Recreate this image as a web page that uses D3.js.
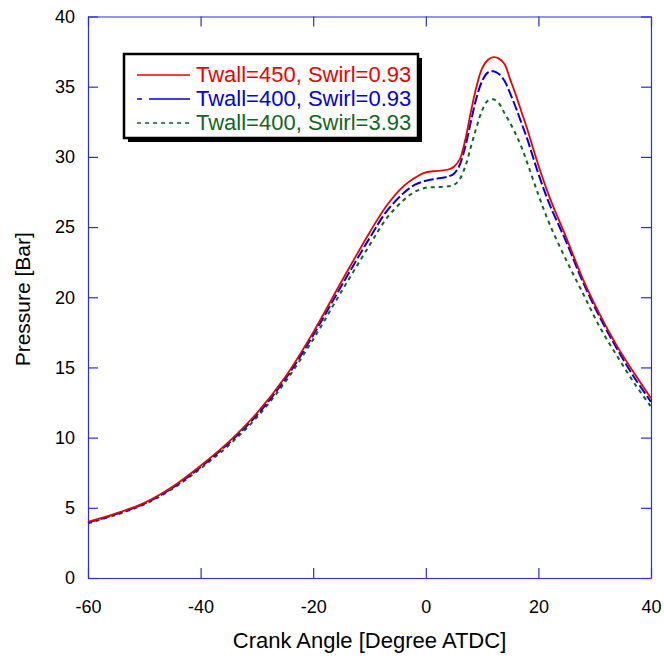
<!DOCTYPE html>
<html>
<head>
<meta charset="utf-8">
<script src="https://cdn.jsdelivr.net/npm/d3@7"></script>
<style>
  body { margin: 0; background: #fff; }
  svg text { font-family: Arial, "Liberation Sans", sans-serif; }
</style>
</head>
<body>
<div id="chart"></div>
<script>
// crank angle samples (degree ATDC)
var angles = [-60, -55, -50, -45, -40, -35, -30, -25, -20, -15, -10, -7, -4, -2, 0, 2, 4, 5, 6, 7, 8, 9, 10, 11, 12, 13, 14, 15, 16, 17, 18, 20, 22, 25, 28, 31, 34, 37, 40];

// pressure [bar] per case
var pTwall450 = [4.0, 4.6, 5.35, 6.5, 8.0, 9.7, 11.75, 14.3, 17.5, 21.1, 24.6, 26.5, 27.9, 28.5, 28.9, 29.0, 29.1, 29.3, 29.8, 31.2, 33.2, 35.0, 36.3, 36.9, 37.1, 37.0, 36.6, 35.5, 34.4, 33.2, 32.0, 29.4, 27.1, 24.2, 21.2, 18.7, 16.5, 14.6, 12.8];
var pTwall400 = [3.95, 4.55, 5.3, 6.42, 7.9, 9.6, 11.6, 14.15, 17.3, 20.8, 24.2, 26.1, 27.4, 28.0, 28.3, 28.45, 28.6, 28.8, 29.4, 30.7, 32.5, 34.2, 35.4, 36.0, 36.1, 35.9, 35.4, 34.5, 33.5, 32.4, 31.3, 28.8, 26.6, 23.9, 21.0, 18.5, 16.3, 14.3, 12.55];
var pSwirl393 = [3.9, 4.5, 5.25, 6.35, 7.8, 9.45, 11.45, 13.95, 17.0, 20.4, 23.7, 25.6, 26.9, 27.5, 27.8, 27.85, 27.9, 28.0, 28.4, 29.3, 30.7, 32.1, 33.3, 34.0, 34.1, 33.8, 33.1, 32.4, 31.6, 30.7, 29.6, 27.3, 25.2, 22.6, 20.2, 17.8, 15.8, 13.9, 12.2];

var seriesNames = ["Twall=450, Swirl=0.93", "Twall=400, Swirl=0.93", "Twall=400, Swirl=3.93"];
var seriesColors = ["#ee0000", "#0000dd", "#116622"];
var seriesDash = [null, "10,3", "4,4"];
var seriesValues = [pTwall450, pTwall400, pSwirl393];

var xTicks = [-60, -40, -20, 0, 20, 40];
var yTicks = [0, 5, 10, 15, 20, 25, 30, 35, 40];

var W = 664, H = 658;
var margin = { top: 16.5, right: 13, bottom: 80, left: 88 };
var width = W - margin.left - margin.right,
    height = H - margin.top - margin.bottom;

var svg = d3.select("#chart").append("svg")
    .attr("width", W)
    .attr("height", H);

var g = svg.append("g")
    .attr("transform", "translate(" + margin.left + "," + margin.top + ")");

var x = d3.scaleLinear().domain([-60, 40]).range([0, width]);
var y = d3.scaleLinear().domain([0, 40]).range([height, 0]);

var axisColor = "#2b2bea";
var fmt = function(d) { return String(d); };

// axes with inward ticks, mirrored on top and right
function styleAxis(sel) {
  sel.select(".domain").attr("stroke", axisColor).attr("stroke-width", 1.2);
  sel.selectAll(".tick line").attr("stroke", axisColor).attr("stroke-width", 1.2);
  sel.selectAll("text").attr("fill", "#000").style("font-size", "18px");
}

g.append("g")
  .attr("transform", "translate(0," + height + ")")
  .call(d3.axisBottom(x).tickValues(xTicks).tickFormat(fmt).tickSize(-10).tickPadding(22).tickSizeOuter(0))
  .call(styleAxis);

g.append("g")
  .call(d3.axisLeft(y).tickValues(yTicks).tickFormat(fmt).tickSize(-10).tickPadding(13).tickSizeOuter(0))
  .call(styleAxis);

g.append("g")
  .call(d3.axisTop(x).tickValues(xTicks).tickSize(-10).tickFormat("").tickSizeOuter(0))
  .call(styleAxis);

g.append("g")
  .attr("transform", "translate(" + width + ",0)")
  .call(d3.axisRight(y).tickValues(yTicks).tickSize(-10).tickFormat("").tickSizeOuter(0))
  .call(styleAxis);

// curves
var line = d3.line()
  .x(function(d) { return x(d[0]); })
  .y(function(d) { return y(d[1]); })
  .curve(d3.curveCatmullRom.alpha(0.5));

var drawOrder = [2, 1, 0];
drawOrder.forEach(function(i) {
  var pts = angles.map(function(a, k) { return [a, seriesValues[i][k]]; });
  g.append("path")
    .datum(pts)
    .attr("fill", "none")
    .attr("stroke", seriesColors[i])
    .attr("stroke-width", i === 0 ? 1.8 : 2)
    .attr("stroke-dasharray", seriesDash[i])
    .attr("d", line);
});

// axis titles
svg.append("text")
  .attr("x", margin.left + width / 2)
  .attr("y", 648)
  .attr("text-anchor", "middle")
  .style("font-size", "22px")
  .text("Crank Angle [Degree ATDC]");

svg.append("text")
  .attr("transform", "translate(30," + (margin.top + height / 2 + 2) + ") rotate(-90)")
  .attr("text-anchor", "middle")
  .style("font-size", "21px")
  .text("Pressure [Bar]");

// legend box with shadow
var lg = svg.append("g");
lg.append("rect")
  .attr("x", 128).attr("y", 58).attr("width", 294).attr("height", 84)
  .attr("fill", "#000");
lg.append("rect")
  .attr("x", 124).attr("y", 54).attr("width", 294).attr("height", 84)
  .attr("fill", "#fff").attr("stroke", "#000").attr("stroke-width", 2.5);

seriesNames.forEach(function(name, i) {
  var yy = 82 + i * 24;
  lg.append("line")
    .attr("x1", i === 1 ? 149 : 137).attr("x2", 190)
    .attr("y1", yy - 7).attr("y2", yy - 7)
    .attr("stroke", seriesColors[i])
    .attr("stroke-width", 1.5)
    .attr("stroke-dasharray", i === 1 ? null : seriesDash[i]);
  if (i === 1) {
    lg.append("line")
      .attr("x1", 137).attr("x2", 142)
      .attr("y1", yy - 7).attr("y2", yy - 7)
      .attr("stroke", seriesColors[i]).attr("stroke-width", 1.5);
  }
  lg.append("text")
    .attr("x", 196).attr("y", yy)
    .attr("fill", seriesColors[i])
    .style("font-size", "22px")
    .text(name);
});
</script>
</body>
</html>
